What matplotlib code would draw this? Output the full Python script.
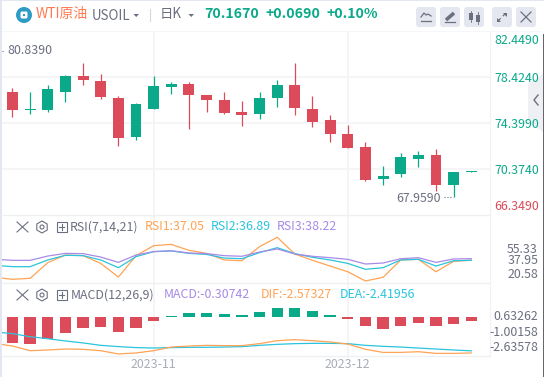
# WTI daily chart, three panes (candles, RSI, MACD)
import matplotlib
matplotlib.use('Agg')
import matplotlib.pyplot as plt
from matplotlib.patches import FancyBboxPatch, Rectangle, Circle, RegularPolygon, Polygon

plt.rcParams['font.family'] = ['Noto Sans CJK SC', 'DejaVu Sans']

W, H = 544, 377

# candles, one per day
opens = [77.13, 75.55, 75.55, 77.13, 78.54, 78.10, 76.60, 73.17, 75.63, 77.57, 77.84, 76.87, 76.43, 75.37, 75.19,
         76.60, 77.75, 75.63, 74.67, 73.44, 72.29, 69.48, 69.92, 71.24, 71.59, 68.95, 70.13]
closes = [75.55, 75.66, 77.40, 78.54, 78.19, 76.69, 73.08, 76.07, 77.66, 77.84, 76.87, 76.43, 75.28, 75.11, 76.60,
          77.75, 75.73, 74.49, 73.44, 72.20, 69.39, 69.74, 71.41, 71.59, 68.95, 70.09, 70.21]
highs = [77.48, 77.13, 77.75, 78.63, 79.68, 78.71, 76.78, 76.16, 78.54, 78.01, 78.01, 76.87, 77.13, 76.34, 77.13,
         78.19, 79.68, 76.78, 75.11, 74.23, 72.73, 70.62, 71.76, 71.94, 72.12, 70.09, 70.21]
lows = [74.93, 75.19, 75.37, 76.25, 77.75, 76.51, 72.38, 72.91, 75.63, 76.96, 73.88, 75.37, 75.19, 74.13, 74.76,
        75.81, 75.11, 74.05, 72.73, 72.20, 69.30, 68.95, 69.65, 70.53, 68.42, 67.96, 70.13]

# indicators start one day before the first candle
rsi1 = [23.5, 21.9, 22.7, 35.1, 41.1, 40.6, 34.5, 23.7, 40.6, 48.5, 49.5, 44.8, 42.4, 37.2, 36.6, 47.7, 55.1, 41.9,
        36.9, 32.4, 27.9, 20.6, 23.5, 37.2, 37.7, 27.9, 36.1, 37.05]
rsi2 = [32.96, 31.9, 31.9, 37.2, 40.9, 40.6, 37.2, 31.1, 39.8, 43.8, 44.3, 42.4, 41.6, 38.7, 38.2, 43.0, 46.9, 42.2,
        39.3, 37.2, 34.5, 29.8, 31.1, 37.2, 37.7, 32.4, 36.6, 36.89]
rsi3 = [37.7, 36.9, 36.9, 40.3, 42.4, 42.2, 39.5, 35.3, 41.1, 43.8, 44.5, 42.7, 42.2, 40.6, 40.1, 43.5, 45.9, 41.9,
        40.1, 39.0, 37.7, 34.0, 34.8, 38.2, 39.0, 35.3, 38.0, 38.22]
hist = [-1.86, -1.94, -1.58, -1.16, -0.80, -0.73, -1.09, -0.80, -0.31, 0.05, 0.24, 0.26, 0.21, 0.12, 0.33, 0.63,
        0.59, 0.40, 0.12, -0.17, -0.66, -0.87, -0.66, -0.45, -0.66, -0.52, -0.307]
dea = [-1.09, -1.20, -1.42, -1.56, -1.72, -1.86, -2.03, -2.12, -2.19, -2.22, -2.19, -2.17, -2.17, -2.15, -2.12,
       -2.03, -1.96, -1.91, -1.89, -1.89, -1.91, -2.03, -2.10, -2.15, -2.22, -2.29, -2.36, -2.42]
dif = [-1.89, -2.08, -2.41, -2.36, -2.29, -2.31, -2.41, -2.64, -2.57, -2.41, -2.15, -2.08, -2.03, -2.05, -2.05,
       -1.91, -1.70, -1.63, -1.70, -1.79, -1.94, -2.31, -2.53, -2.53, -2.48, -2.60, -2.60, -2.57]

price_ticks = [82.449, 78.424, 74.399, 70.374, 66.349]
month_pos = [8, 19]
month_labels = ['2023-11', '2023-12']

GREEN = '#0aa98a'
RED = '#dc4b5a'
ORANGE = '#ffa356'
CYAN = '#2bc4dc'
PURPLE = '#a78be6'
GRAY = '#6b6f80'
GRID = '#f3f4f7'


def pane(x0, y0, x1, y1):
    # axes from pixel box, y counted from the top of the image
    ax = fig.add_axes([x0 / W, 1 - y1 / H, (x1 - x0) / W, (y1 - y0) / H])
    ax.set_xlim(-0.595, 27.06)
    for s in ax.spines.values():
        s.set_visible(False)
    ax.set_xticks([])
    ax.set_yticks([])
    for m in month_pos:
        ax.axvline(m, color=GRID, lw=1.2, zorder=0)
    return ax


fig = plt.figure(figsize=(W / 100, H / 100), dpi=100, facecolor='white')

##### candles #####
ax1 = pane(2, 31.5, 490, 215)
ax1.set_ylim(66.349, 82.449)
for p in price_ticks[1:-1]:
    ax1.axhline(p, color=GRID, lw=1.2, zorder=0)
for i in range(len(opens)):
    c = GREEN if closes[i] >= opens[i] else RED
    ax1.vlines(i, lows[i], highs[i], color=c, lw=0.9, zorder=2)
    ax1.bar(i, abs(closes[i] - opens[i]), bottom=min(opens[i], closes[i]), width=0.62, color=c, zorder=3)

##### RSI #####
xs = list(range(-1, 27))
ax2 = pane(2, 215, 490, 283)
ax2.set_ylim(19.0, 72.72)
ax2.plot(xs, rsi1, color=ORANGE, lw=0.9)
ax2.plot(xs, rsi2, color=CYAN, lw=0.9)
ax2.plot(xs, rsi3, color=PURPLE, lw=0.9)

##### MACD #####
ax3 = pane(2, 283, 490, 356)
ax3.set_ylim(-2.785, 2.384)
ax3.bar(range(27), hist, width=0.64, color=[GREEN if v > 0 else RED for v in hist], zorder=2)
ax3.plot(xs, dea, color=CYAN, lw=0.9, zorder=3)
ax3.plot(xs, dif, color=ORANGE, lw=0.9, zorder=3)

##### everything around the panes, in pixels #####
ov = fig.add_axes([0, 0, 1, 1], zorder=5)
ov.set_xlim(0, W)
ov.set_ylim(H, 0)
ov.axis('off')
ov.patch.set_alpha(0)


def txt(x, y, s, color=GRAY, size=8.9, ha='left', **kw):
    ov.text(x, y, s, color=color, fontsize=size, ha=ha, va='center', **kw)


def hline(y, x0=2, x1=490, color='#eef0f4', lw=1.0):
    ov.plot([x0, x1], [y, y], color=color, lw=lw, solid_capstyle='butt')


ov.add_patch(Rectangle((0, 0), 2, H, color='#e3e7f0', lw=0))
ov.add_patch(Rectangle((0, 0), W, 1, color='#e3e7f0', lw=0))
ov.add_patch(Rectangle((2, 30.5), 540, 1.5, color='#f5f6f9', lw=0))
ov.add_patch(Rectangle((543, 34), 1, H - 34, color='#66666c', lw=0))
ov.plot([490, 490], [32, 356], color='#f1f2f6', lw=0.8)
hline(215)
hline(283)
hline(356)

# header
ov.add_patch(Circle((24, 15), 8, color='#2e9bc6', lw=0))
ov.add_patch(FancyBboxPatch((20.5, 11.5), 7, 7, boxstyle='round,pad=0,rounding_size=1.5', color='white', lw=0))
ov.add_patch(Rectangle((22.7, 13.7), 2.6, 2.6, color='#2e9bc6', lw=0))
txt(36, 14, 'WTI原油', color='#ff7a50', size=10)
txt(91.5, 15.5, 'USOIL', size=9.6)
ov.add_patch(Polygon([[133.5, 14], [139, 14], [136.2, 17]], color=GRAY, lw=0))
ov.plot([150, 150], [9, 21], color='#d5d8e0', lw=0.8)
txt(160, 14, '日K', size=9.6)
ov.add_patch(Polygon([[188.5, 14], [194, 14], [191.2, 17]], color=GRAY, lw=0))
txt(204.5, 14, '70.1670', color=GREEN, size=10.2, fontweight='bold')
txt(265.5, 14, '+0.0690', color=GREEN, size=10.2, fontweight='bold')
txt(326.5, 14, '+0.10%', color=GREEN, size=10.2, fontweight='bold')

# buttons
for bx in [416, 440, 464, 492, 516]:
    ov.add_patch(FancyBboxPatch((bx, 7), 20, 20, boxstyle='round,pad=0,rounding_size=3', color='#e4e7ef', lw=0))
ov.plot([421, 424, 426, 428, 431], [17, 13, 15, 14, 16], color=GRAY, lw=0.9)
ov.plot([421, 431], [21, 21], color=GRAY, lw=0.9)
ov.plot([446, 454], [20, 13], color=GRAY, lw=2.6, solid_capstyle='butt')
ov.plot([445, 455], [22, 22], color=GRAY, lw=0.9)
ov.add_patch(Rectangle((469, 13), 4, 7, color=GRAY, lw=0))
ov.add_patch(Rectangle((475.5, 15), 4, 7, color=GRAY, lw=0))
ov.plot([471, 471], [11, 22], color=GRAY, lw=0.6)
ov.plot([477.5, 477.5], [12, 24], color=GRAY, lw=0.6)
ov.plot([498, 506], [21, 13], color=GRAY, lw=0.9, ls=(0, (3, 2.5)))
ov.add_patch(Polygon([[503, 13], [507, 13], [507, 17]], color=GRAY, lw=0))
ov.add_patch(Polygon([[497, 18], [497, 22], [501, 22]], color=GRAY, lw=0))
ov.plot([521, 531], [12, 22], color=GRAY, lw=0.9)
ov.plot([521, 531], [22, 12], color=GRAY, lw=0.9)

# collapse tab
ov.add_patch(Polygon([[528, 84], [543, 74], [543, 132], [528, 122]], color='#eef0f3', lw=0))
ov.plot([538, 534, 538], [95, 100, 105], color=GRAY, lw=1.0)

# price axis
for p, y, c in zip(price_ticks, [40, 78, 124, 171, 207], [GREEN, GREEN, GREEN, GREEN, RED]):
    txt(539, y, '%.4f' % p, color=c, ha='right')

# high / low notes
ov.plot([2, 5], [51, 51], color=GRAY, lw=0.8, ls=':')
txt(7, 51, '80.8390')
txt(396, 199, '67.9590')
ov.plot([444, 453], [197, 197], color=GRAY, lw=0.8, ls=':')


def pane_icons(y):
    ov.plot([17, 28], [y - 5, y + 5], color=GRAY, lw=0.8)
    ov.plot([17, 28], [y + 5, y - 5], color=GRAY, lw=0.8)
    ov.add_patch(RegularPolygon((42, y), 6, radius=6, fill=False, ec=GRAY, lw=0.8))
    ov.add_patch(Circle((42, y), 2, fill=False, ec=GRAY, lw=0.8))
    ov.add_patch(Rectangle((56.5, y - 5), 10, 10, fill=False, ec=GRAY, lw=0.8))
    ov.plot([59, 64], [y, y], color=GRAY, lw=0.8)
    ov.plot([61.5, 61.5], [y - 3, y + 3], color=GRAY, lw=0.8)


# RSI texts
pane_icons(227)
txt(70, 227, 'RSI(7,14,21)')
txt(145, 227, 'RSI1:37.05', color=ORANGE)
txt(211, 227, 'RSI2:36.89', color=CYAN)
txt(277, 227, 'RSI3:38.22', color=PURPLE)
for s, y in zip(['55.33', '37.95', '20.58'], [249.5, 261, 275]):
    txt(538, y, s, ha='right')

# MACD texts
pane_icons(295)
txt(71, 295, 'MACD(12,26,9)')
txt(164, 295, 'MACD:-0.30742', color=PURPLE)
txt(261, 295, 'DIF:-2.57327', color=ORANGE)
txt(340, 295, 'DEA:-2.41956', color=CYAN)
for s, y in zip(['0.63262', '-1.00158', '-2.63578'], [317, 332.5, 347.5]):
    txt(538, y, s, ha='right')

# months, placed with the same x scale as the candles
for m, s in zip(month_pos, month_labels):
    ax3.annotate(s, xy=(m, 0), xycoords=('data', 'axes fraction'), xytext=(0, -6), textcoords='offset points',
                 ha='center', va='center', color='#a9adb8', fontsize=8.9, annotation_clip=False)

fig.savefig('out.png', dpi=100)
